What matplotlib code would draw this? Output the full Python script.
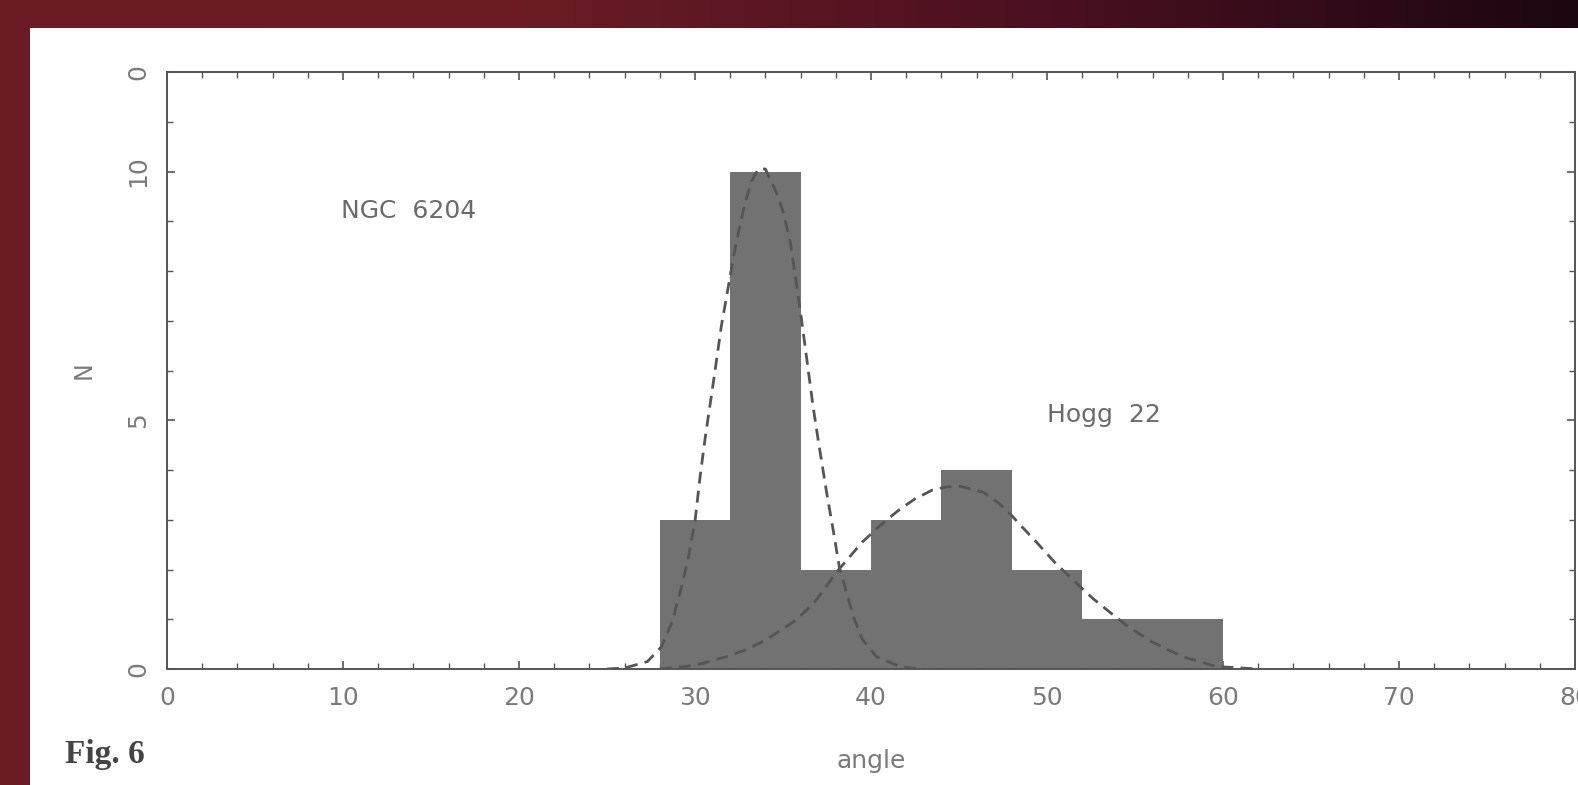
"""
Histogram of angles for NGC 6204 and Hogg 22 with the two fitted curves (Fig. 6).
"""
import matplotlib
matplotlib.use('Agg')

import numpy as np
import matplotlib.pyplot as plt
from matplotlib.patches import Rectangle

# histogram bins (angle) and counts
bin_edges = [28, 32, 36, 40, 44, 48, 52, 56, 60]
counts = [3, 10, 2, 3, 4, 2, 1, 1]

# dashed fit curves
ngc_x = [25.0, 26.0, 27.3, 28.1, 28.7, 29.2, 29.6, 30.0, 30.3, 30.6, 31.1,
         31.5, 31.9, 32.3, 32.8, 33.2, 33.6, 34.0, 34.6, 35.0, 35.4, 35.7,
         36.1, 36.4, 36.7, 37.0, 37.5, 37.8, 38.2, 38.6, 39.0, 39.5, 40.3,
         41.7, 43.0]
ngc_y = [0.0, 0.02, 0.15, 0.45, 0.95, 1.6, 2.2, 2.97, 3.9, 4.7, 5.9,
         6.9, 7.7, 8.5, 9.3, 9.8, 10.05, 10.05, 9.6, 9.2, 8.6, 7.9,
         6.9, 6.1, 5.3, 4.6, 3.5, 2.9, 2.05, 1.55, 1.05, 0.6, 0.25,
         0.04, 0.0]

hogg_x = [28.0, 29.5, 30.5, 31.8, 33.0, 34.1, 35.6, 36.7, 37.3, 38.0, 38.8,
          39.5, 40.7, 41.6, 42.5, 43.5, 44.3, 45.1, 46.4, 47.2, 47.9, 48.6,
          49.4, 50.5, 51.9, 52.6, 53.4, 54.5, 55.9, 56.8, 57.7, 59.6, 62.0]
hogg_y = [0.0, 0.05, 0.12, 0.25, 0.4, 0.6, 0.95, 1.3, 1.58, 1.93, 2.26,
          2.55, 2.94, 3.2, 3.42, 3.6, 3.66, 3.67, 3.55, 3.35, 3.12, 2.85,
          2.55, 2.12, 1.65, 1.42, 1.19, 0.88, 0.56, 0.4, 0.25, 0.05, 0.0]

x_ticks = [0, 10, 20, 30, 40, 50, 60, 70, 80]
y_ticks = [0, 5, 10, 12]
y_tick_labels = ["0", "5", "10", "0"]

labels = {"NGC  6204": (9.9, 9.2), "Hogg  22": (50.0, 5.1)}

W, H = 1578, 785
fig = plt.figure(figsize=(W / 100, H / 100), dpi=100)

# slide background: dark red fading to near black on the right
bg = fig.add_axes([0, 0, 1, 1], zorder=-10)
grad = np.linspace(0, 1, 256).reshape(1, -1)
cmap = matplotlib.colors.LinearSegmentedColormap.from_list(
    "slide", ["#6a1a22", "#6a1c24", "#4a1020", "#1c0612"])
bg.imshow(grad, aspect="auto", cmap=cmap, extent=[0, 1, 0, 1])
bg.add_patch(Rectangle((30 / W, 0), 1 - 30 / W, 1 - 28 / H,
                       facecolor="white", edgecolor="none"))
bg.set_xlim(0, 1)
bg.set_ylim(0, 1)
bg.axis("off")

ax = fig.add_axes([167 / W, 1 - 669 / H, (1575 - 167) / W, (669 - 72) / H])
ax.set_facecolor("none")

widths = np.diff(bin_edges)
ax.bar(bin_edges[:-1], counts, width=widths, align="edge",
       color="#727272", edgecolor="none", zorder=2)

dash = (0, (4.3, 2.6))
ax.plot(ngc_x, ngc_y, linestyle=dash, color="#555555", lw=2.0, zorder=3)
ax.plot(hogg_x, hogg_y, linestyle=dash, color="#555555", lw=2.0, zorder=3)

for txt, (tx, ty) in labels.items():
    ax.text(tx, ty, txt, fontsize=18, color="#6a6a6a", va="center", ha="left")

ax.set_xlim(0, 80)
ax.set_ylim(0, 12)
ax.set_xticks(x_ticks)
ax.set_xticks(np.arange(0, 81, 2), minor=True)
ax.set_yticks(y_ticks)
ax.set_yticklabels(y_tick_labels, rotation=90, va="center")
ax.set_yticks(np.arange(0, 13, 1), minor=True)

ax.tick_params(which="both", direction="in", top=True, right=True,
               color="#555555", labelcolor="#7a7a7a", labelsize=18)
ax.tick_params(which="major", length=6, width=1.2, pad=12)
ax.tick_params(which="minor", length=4, width=1.0)
for s in ax.spines.values():
    s.set_color("#555555")
    s.set_linewidth(1.4)

ax.set_xlabel("angle", fontsize=18, color="#7a7a7a", labelpad=28)
ax.set_ylabel("N", fontsize=17, color="#7a7a7a", labelpad=22)

fig.text(65 / W, 1 - 755 / H, "Fig. 6", family="Liberation Serif",
         fontweight="bold", fontsize=24, color="#444444", va="center")

fig.savefig("out.png", dpi=100)
